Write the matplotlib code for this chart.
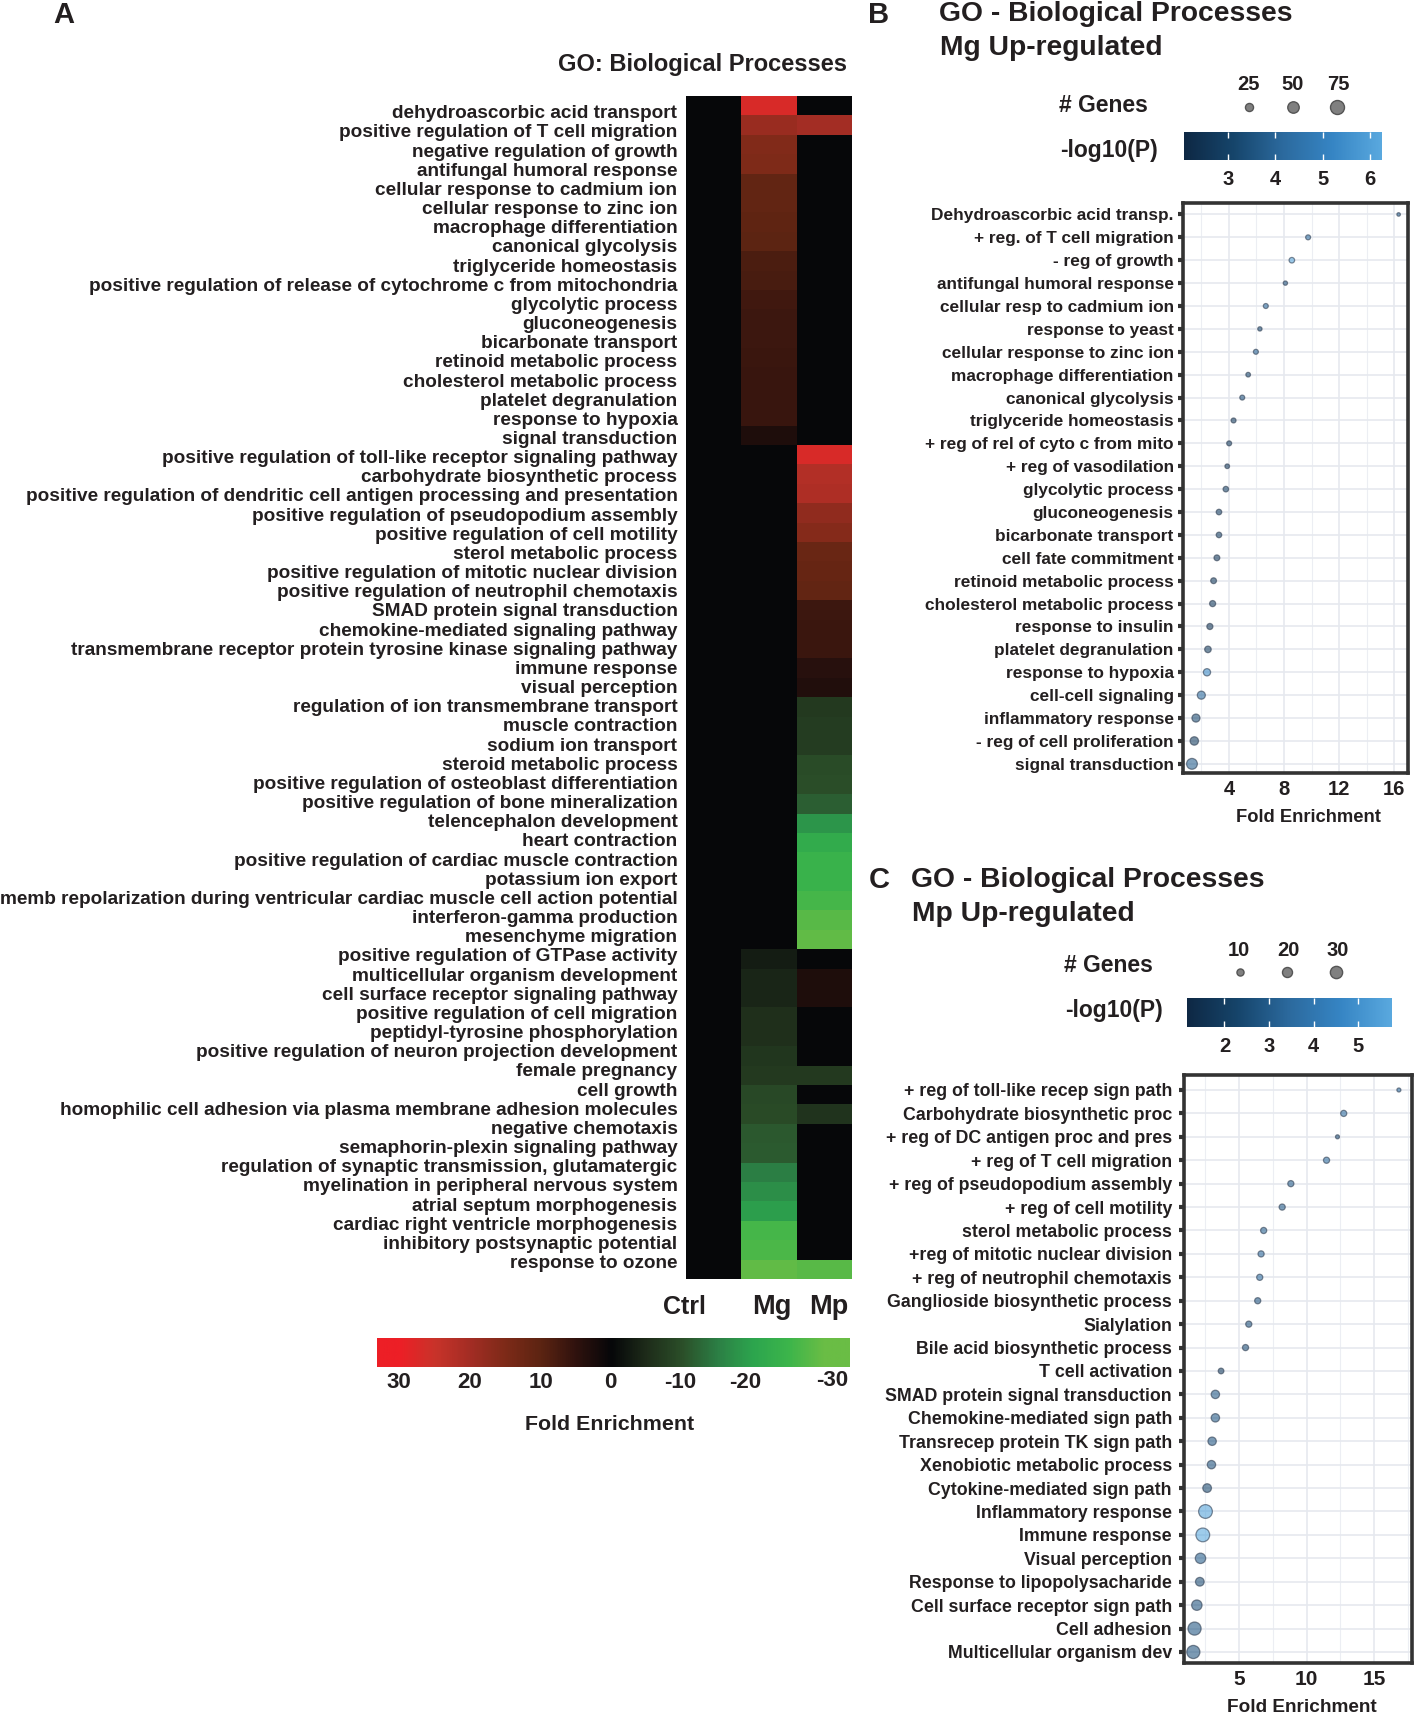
import numpy as np
import matplotlib
matplotlib.use("Agg")
import matplotlib.pyplot as plt
from matplotlib.colors import LinearSegmentedColormap, Normalize
from matplotlib.ticker import MultipleLocator

plt.rcParams['font.family'] = ['Liberation Sans', 'DejaVu Sans']
plt.rcParams['font.weight'] = 'bold'
TXT = '#231f20'
W, H = 1417, 1713

# ---------- Panel A data ----------
terms_a = [
 "dehydroascorbic acid transport", "positive regulation of T cell migration", "negative regulation of growth",
 "antifungal humoral response", "cellular response to cadmium ion", "cellular response to zinc ion",
 "macrophage differentiation", "canonical glycolysis", "triglyceride homeostasis",
 "positive regulation of release of cytochrome c from mitochondria", "glycolytic process", "gluconeogenesis",
 "bicarbonate transport", "retinoid metabolic process", "cholesterol metabolic process", "platelet degranulation",
 "response to hypoxia", "signal transduction", "positive regulation of toll-like receptor signaling pathway",
 "carbohydrate biosynthetic process", "positive regulation of dendritic cell antigen processing and presentation",
 "positive regulation of pseudopodium assembly", "positive regulation of cell motility", "sterol metabolic process",
 "positive regulation of mitotic nuclear division", "positive regulation of neutrophil chemotaxis",
 "SMAD protein signal transduction", "chemokine-mediated signaling pathway",
 "transmembrane receptor protein tyrosine kinase signaling pathway", "immune response", "visual perception",
 "regulation of ion transmembrane transport", "muscle contraction", "sodium ion transport", "steroid metabolic process",
 "positive regulation of osteoblast differentiation", "positive regulation of bone mineralization",
 "telencephalon development", "heart contraction", "positive regulation of cardiac muscle contraction",
 "potassium ion export", "memb repolarization during ventricular cardiac muscle cell action potential",
 "interferon-gamma production", "mesenchyme migration", "positive regulation of GTPase activity",
 "multicellular organism development", "cell surface receptor signaling pathway", "positive regulation of cell migration",
 "peptidyl-tyrosine phosphorylation", "positive regulation of neuron projection development", "female pregnancy",
 "cell growth", "homophilic cell adhesion via plasma membrane adhesion molecules", "negative chemotaxis",
 "semaphorin-plexin signaling pathway", "regulation of synaptic transmission, glutamatergic",
 "myelination in peripheral nervous system", "atrial septum morphogenesis", "cardiac right ventricle morphogenesis",
 "inhibitory postsynaptic potential", "response to ozone"]
ctrl_fe = [0] * 61
mg_fe = [27, 18.6, 15.5, 15, 11, 10.8, 10.5, 10, 8, 7.8, 7, 6.5, 6.4, 6.3, 6, 6, 6, 3,
         0, 0, 0, 0, 0, 0, 0, 0, 0, 0, 0, 0, 0, 0, 0, 0, 0, 0, 0, 0, 0, 0, 0, 0, 0, 0,
         -3, -4, -4, -5.5, -5.5, -6.5, -6.8, -9, -9.2, -11, -11.2, -15, -17, -19, -26, -26.5, -29]
mp_fe = [0, 20, 0, 0, 0, 0, 0, 0, 0, 0, 0, 0, 0, 0, 0, 0, 0, 0,
         27, 22, 21.5, 17.5, 16, 12, 11.5, 11, 6.5, 6.3, 6.2, 4, 3.5,
         -7, -7.5, -7.5, -9.5, -9.7, -11.5, -18, -22, -24, -24, -26, -28, -29,
         0, 3, 3, 0, 0, 0, -6.8, 0, -6, 0, 0, 0, 0, 0, 0, 0, -28]
columns_a = ["Ctrl", "Mg", "Mp"]
cbar_ticks_a = [30, 20, 10, 0, -10, -20, -30]

# ---------- Panel B data ----------
terms_b = ["Dehydroascorbic acid transp.", "+ reg. of T cell migration", "- reg of growth", "antifungal humoral response",
 "cellular resp to cadmium ion", "response to yeast", "cellular response to zinc ion", "macrophage differentiation",
 "canonical glycolysis", "triglyceride homeostasis", "+ reg of rel of cyto c from mito", "+ reg of vasodilation",
 "glycolytic process", "gluconeogenesis", "bicarbonate transport", "cell fate commitment", "retinoid metabolic process",
 "cholesterol metabolic process", "response to insulin", "platelet degranulation", "response to hypoxia",
 "cell-cell signaling", "inflammatory response", "- reg of cell proliferation", "signal transduction"]
fold_b = [16.32, 9.75, 8.57, 8.1, 6.68, 6.25, 5.96, 5.4, 4.97, 4.34, 4.02, 3.88, 3.78, 3.28, 3.28, 3.13, 2.89, 2.82,
          2.62, 2.48, 2.41, 2.0, 1.61, 1.49, 1.32]
genes_b = [4, 8, 10, 6, 8, 6, 8, 7, 8, 8, 8, 7, 10, 10, 10, 11, 11, 12, 12, 14, 17, 21, 21, 23, 38]
logp_b = [3.8, 4.2, 6.2, 3.5, 4.2, 3.2, 4.0, 3.2, 3.5, 2.8, 2.8, 2.7, 3.0, 2.9, 2.9, 2.7, 2.8, 2.8, 2.6, 2.8, 5.3, 4.2,
          3.2, 2.8, 3.8]
legend_genes_b = [25, 50, 75]

# ---------- Panel C data ----------
terms_c = ["+ reg of toll-like recep sign path", "Carbohydrate biosynthetic proc", "+ reg of DC antigen proc and pres",
 "+ reg of T cell migration", "+ reg of pseudopodium assembly", "+ reg of cell motility", "sterol metabolic process",
 "+reg of mitotic nuclear division", "+ reg of neutrophil chemotaxis", "Ganglioside biosynthetic process", "Sialylation",
 "Bile acid biosynthetic process", "T cell activation", "SMAD protein signal transduction", "Chemokine-mediated sign path",
 "Transrecep protein TK sign path", "Xenobiotic metabolic process", "Cytokine-mediated sign path", "Inflammatory response",
 "Immune response", "Visual perception", "Response to lipopolysacharide", "Cell surface receptor sign path", "Cell adhesion",
 "Multicellular organism dev"]
fold_c = [16.83, 12.75, 12.29, 11.48, 8.84, 8.2, 6.83, 6.64, 6.54, 6.39, 5.73, 5.49, 3.68, 3.26, 3.26, 3.02, 2.97, 2.65,
          2.53, 2.33, 2.16, 2.11, 1.89, 1.72, 1.63]
genes_c = [3, 7, 3, 7, 7, 7, 7, 7, 7, 7, 7, 7, 6, 13, 13, 13, 13, 14, 35, 35, 20, 14, 20, 32, 32]
logp_c = [3.5, 3.5, 2.5, 3.5, 3.0, 3.0, 3.2, 3.4, 3.5, 2.8, 2.7, 2.6, 2.0, 2.9, 2.9, 2.8, 2.7, 2.4, 5.5, 5.7, 3.0, 2.5,
          2.7, 2.8, 2.7]
legend_genes_c = [10, 20, 30]

# ---------- colour scales ----------
fe_colors = [(-30, '#6abd45'), (-25, '#3cb54b'), (-20, '#2ca54e'), (-15, '#2c7f45'), (-10, '#2b4f29'), (-5, '#1e2c1a'),
             (0, '#060709'), (5, '#2f120e'), (10, '#5c2412'), (15, '#7d2a18'), (20, '#a32d24'), (25, '#c9332a'), (30, '#ed1f26')]
fe_cmap = LinearSegmentedColormap.from_list('fe', [((v + 30) / 60, c) for v, c in fe_colors])
fe_norm = Normalize(-30, 30)
p_cmap = LinearSegmentedColormap.from_list('p', ['#0e2844', '#16456b', '#2c6a9e', '#3685c4', '#5aa9df'])

fig = plt.figure(figsize=(W / 100, H / 100), dpi=100, facecolor='white')


def axpx(x0, y0, x1, y1, **kw):
    return fig.add_axes([x0 / W, 1 - y1 / H, (x1 - x0) / W, (y1 - y0) / H], **kw)


# ---------- Panel A ----------
ax = axpx(686, 96, 852, 1279)
matrix = np.array([ctrl_fe, mg_fe, mp_fe], dtype=float).T
ax.imshow(matrix, cmap=fe_cmap, norm=fe_norm, aspect='auto', interpolation='nearest')
ax.set_xticks([])
ax.set_yticks(np.linspace(0.31, 59.6, len(terms_a)))
ax.set_yticklabels(terms_a, fontsize=13.7, color=TXT)
ax.tick_params(axis='y', length=0, pad=6.2)
for s in ax.spines.values():
    s.set_visible(False)

cb = axpx(377, 1338, 850, 1367)
grad = np.linspace(33, -33.5, 512)[None, :]
cb.imshow(grad, cmap=fe_cmap, norm=fe_norm, aspect='auto', extent=[33, -33.5, 0, 1])
cb.set_xticks([])
cb.set_yticks([])
for s in cb.spines.values():
    s.set_visible(False)


# ---------- Panels B and C ----------
def dots(box, terms, fold, genes, logp, xlim, ylim, major, minor, vmin, vmax, k, size, pad, tsize):
    a = axpx(*box)
    y = np.arange(len(terms))
    a.set_axisbelow(True)
    a.scatter(fold, y, s=np.array(genes) * k, c=logp, cmap=p_cmap, vmin=vmin, vmax=vmax,
              alpha=0.58, edgecolors='#2b3a4e', linewidths=0.9, zorder=3)
    a.set_xlim(*xlim)
    a.set_ylim(*ylim)
    a.set_yticks(y)
    a.set_yticklabels(terms, fontsize=size, color=TXT)
    a.xaxis.set_major_locator(MultipleLocator(major))
    a.xaxis.set_minor_locator(MultipleLocator(minor))
    a.grid(True, which='major', color='#e6e9ef', lw=1.2)
    a.grid(True, which='minor', axis='x', color='#eceef3', lw=0.8)
    a.tick_params(axis='y', length=3.5, width=3, color='#333333', pad=pad)
    a.tick_params(axis='x', which='both', length=0, pad=5, labelsize=tsize, labelcolor=TXT)
    for s in a.spines.values():
        s.set_linewidth(2.6)
        s.set_color('#333333')
    return a


dots((1183, 203, 1408, 773), terms_b, fold_b, genes_b, logp_b, (0.67, 17.0), (24.4, -0.5), 4, 2, 2.08, 6.25, 1.6, 12.45, 3.2, 14.5)
dots((1184, 1075, 1412, 1663), terms_c, fold_c, genes_c, logp_c, (0.94, 17.8), (24.47, -0.64), 5, 2.5, 1.16, 5.76, 2.8, 12.8, 5.2, 15)


def pbar(box, vmin, vmax, ticks):
    c = axpx(*box)
    c.imshow(np.linspace(vmin, vmax, 256)[None, :], cmap=p_cmap, aspect='auto', extent=[vmin, vmax, 0, 1])
    c.set_yticks([])
    c.set_xticks(ticks)
    c.tick_params(axis='x', top=True, bottom=True, direction='in', color='white', length=4, width=1,
                  pad=7.5, labelsize=14.5, labelcolor=TXT)
    for s in c.spines.values():
        s.set_visible(False)


pbar((1184, 132, 1382, 160), 2.08, 6.25, [3, 4, 5, 6])
pbar((1187, 998, 1392, 1027), 1.16, 5.76, [2, 3, 4, 5])

# ---------- overlay for titles, legends ----------
ov = fig.add_axes([0, 0, 1, 1], zorder=10)
ov.set_xlim(0, W)
ov.set_ylim(H, 0)
ov.axis('off')


def T(x, y, s, size, ha='left', **kw):
    ov.text(x, y, s, fontsize=size, ha=ha, va='center', color=TXT, **kw)


T(64, 15, 'A', 21, ha='center')
T(879, 15, 'B', 21, ha='center')
T(879, 880, 'C', 21, ha='center')
T(847, 64, 'GO: Biological Processes', 17, ha='right')
T(939, 14, 'GO - Biological Processes', 20.3)
T(940, 48, 'Mg Up-regulated', 20.3)
T(911, 880, 'GO - Biological Processes', 20.3)
T(912, 914, 'Mp Up-regulated', 20.3)

for name, x, size in zip(columns_a, [684, 772, 829], [18, 19.5, 19.5]):
    T(x, 1307, name, size, ha='center')
for v, x, y in zip(cbar_ticks_a, [399, 470, 541, 610, 680, 745, 832], [1382, 1382, 1382, 1382, 1382, 1383, 1380]):
    T(x, y, str(v), 16, ha='center')
T(610, 1424, 'Fold Enrichment', 15.4, ha='center')
T(1308, 817, 'Fold Enrichment', 13.2, ha='center')
T(1302, 1707, 'Fold Enrichment', 13.7, ha='center')

T(1059, 105, '# Genes', 16.5)
T(1060, 150, '-log10(P)', 16.5)
T(1064, 965, '# Genes', 16.5)
T(1065, 1010, '-log10(P)', 16.5)

for n, xt, xd in zip(legend_genes_b, [1248, 1293, 1338], [1249, 1293, 1337]):
    T(xt, 84, str(n), 14.5, ha='center')
    ov.scatter([xd], [107], s=n * 1.35, c='#808080', edgecolors='#555555', linewidths=1)
for n, xt, xd in zip(legend_genes_c, [1239, 1288, 1338], [1240, 1287, 1336]):
    T(xt, 950, str(n), 14.5, ha='center')
    ov.scatter([xd], [972], s=n * 2.6, c='#808080', edgecolors='#555555', linewidths=1)

fig.savefig('out.png', dpi=100, facecolor='white')
